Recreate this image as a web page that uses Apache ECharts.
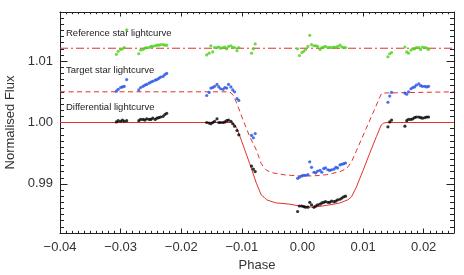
<!DOCTYPE html>
<html>
<head>
<meta charset="utf-8">
<script src="https://cdn.jsdelivr.net/npm/echarts@6.0.0/dist/echarts.min.js"></script>
<style>
html,body{margin:0;padding:0;background:#fff;}
#chart{width:464px;height:275px;}
</style>
</head>
<body>
<div id="chart"></div>
<script>
// ---- observation phases (shared by all three light curves) ----
const phase = [
  -0.0307, -0.0304, -0.0300, -0.0297, -0.0294, -0.0290,
  -0.0270, -0.0267, -0.0263, -0.0260, -0.0257, -0.0253, -0.0250, -0.0247, -0.0243, -0.0240, -0.0237, -0.0234, -0.0230, -0.0227, -0.0224,
  -0.0158, -0.0154, -0.0151, -0.0148, -0.0145, -0.0141, -0.0138, -0.0135, -0.0131, -0.0128, -0.0125, -0.0122, -0.0118, -0.0115, -0.0112, -0.0108, -0.0105,
  -0.0084, -0.0081, -0.0078,
  -0.0008, -0.0005, -0.0001, 0.0002, 0.0005, 0.0009, 0.0012, 0.0015, 0.0019, 0.0022, 0.0025, 0.0029, 0.0032, 0.0035, 0.0038, 0.0042, 0.0045, 0.0048, 0.0052, 0.0055, 0.0058, 0.0062, 0.0065, 0.0068, 0.0071,
  0.0141, 0.0144, 0.0147,
  0.0169, 0.0172, 0.0175, 0.0179, 0.0182, 0.0185, 0.0188, 0.0192, 0.0195, 0.0198, 0.0202, 0.0205, 0.0208
];
// ---- Reference star lightcurve (green) ----
const refFlux = [
  1.0111, 1.0116, 1.0119, 1.0120, 1.0122, 1.0151,
  1.0112, 1.0118, 1.0119, 1.0121, 1.0122, 1.0122, 1.0124, 1.0124, 1.0125, 1.0126, 1.0126, 1.0127, 1.0127, 1.0126, 1.0126,
  1.0110, 1.0113, 1.0125, 1.0115, 1.0122, 1.0122, 1.0123, 1.0121, 1.0122, 1.0123, 1.0120, 1.0124, 1.0125, 1.0122, 1.0122, 1.0117, 1.0122,
  1.0113, 1.0120, 1.0128,
  1.0120, 1.0109, 1.0114, 1.0116, 1.0119, 1.0124, 1.0142, 1.0127, 1.0125, 1.0125, 1.0124, 1.0119, 1.0122, 1.0123, 1.0124, 1.0122, 1.0122, 1.0122, 1.0123, 1.0122, 1.0124, 1.0126, 1.0123, 1.0122, 1.0122,
  1.0107, 1.0112, 1.0114,
  1.0123, 1.0115, 1.0113, 1.0118, 1.0120, 1.0120, 1.0122, 1.0122, 1.0119, 1.0123, 1.0122, 1.0121, 1.0119
];
// ---- Target star lightcurve (blue) ----
const targetFlux = [
  1.0051, 1.0054, 1.0057, 1.0058, 1.0059, 1.0070,
  1.0053, 1.0057, 1.0059, 1.0061, 1.0062, 1.0064, 1.0066, 1.0067, 1.0069, 1.0070, 1.0072, 1.0074, 1.0075, 1.0078, 1.0080,
  1.0044, 1.0049, 1.0056, 1.0057, 1.0059, 1.0062, 1.0058, 1.0055, 1.0054, 1.0057, 1.0056, 1.0062, 1.0058, 1.0053, 1.0050, 1.0039, 1.0036,
  0.9979, 0.9975, 0.9982,
  0.9909, 0.9911, 0.9913, 0.9914, 0.9914, 0.9915, 0.9936, 0.9927, 0.9919, 0.9918, 0.9921, 0.9922, 0.9919, 0.9925, 0.9926, 0.9923, 0.9922, 0.9923, 0.9924, 0.9927, 0.9926, 0.9931, 0.9932, 0.9933, 0.9934,
  1.0033, 1.0043, 1.0049,
  1.0048, 1.0046, 1.0050, 1.0055, 1.0057, 1.0058, 1.0061, 1.0063, 1.0060, 1.0059, 1.0059, 1.0058, 1.0059
];
// ---- Differential lightcurve (black) ----
const diffFlux = [
  1.0001, 1.0003, 1.0002, 1.0004, 1.0002, 1.0003,
  1.0003, 1.0005, 1.0005, 1.0004, 1.0006, 1.0005, 1.0005, 1.0007, 1.0005, 1.0007, 1.0008, 1.0009, 1.0010, 1.0013, 1.0015,
  1.0000, 0.9999, 0.9998, 1.0000, 1.0002, 1.0006, 1.0000, 1.0000, 1.0000, 1.0001, 1.0003, 1.0004, 1.0002, 0.9998, 0.9994, 0.9987, 0.9980,
  0.9929, 0.9924, 0.9920,
  0.9855, 0.9864, 0.9864, 0.9863, 0.9862, 0.9862, 0.9870, 0.9866, 0.9862, 0.9864, 0.9866, 0.9867, 0.9869, 0.9870, 0.9871, 0.9870, 0.9870, 0.9872, 0.9871, 0.9872, 0.9874, 0.9875, 0.9877, 0.9879, 0.9880,
  0.9993, 1.0001, 1.0004,
  0.9994, 1.0003, 1.0005, 1.0005, 1.0006, 1.0008, 1.0009, 1.0009, 1.0008, 1.0007, 1.0008, 1.0009, 1.0009
];
// ---- model curves (red) ----
const refModelPhase = [-0.04, 0.025];
const refModelFlux = [1.0121, 1.0121];
const targetModelPhase = [-0.04, -0.0120, -0.0117, -0.0114, -0.0110, -0.0106, -0.0098, -0.0087, -0.0076, -0.0068,
  -0.0063, -0.0059, -0.0049, -0.0032, -0.0007, 0.0018, 0.0040, 0.0062, 0.0073, 0.0081,
  0.0089, 0.0097, 0.0105, 0.0113, 0.0121, 0.0127, 0.0131, 0.0134, 0.025];
const targetModelFlux = [1.0050, 1.0050, 1.0049, 1.0044, 1.0035, 1.0025, 1.0004, 0.9977, 0.9955, 0.9933,
  0.9926, 0.9922, 0.9918, 0.9915, 0.9913, 0.9913, 0.9915, 0.9920, 0.9925, 0.9936,
  0.9954, 0.9972, 0.9990, 1.0008, 1.0026, 1.0040, 1.0048, 1.0050, 1.0050];
const diffModelPhase = [-0.04, -0.0118, -0.0114, -0.0111, -0.0108, -0.0103, -0.0095, -0.0087, -0.0076, -0.0068,
  -0.0063, -0.0059, -0.0050, -0.0043, -0.0021, -0.0005, 0.0018, 0.0040, 0.0062, 0.0075,
  0.0081, 0.0089, 0.0100, 0.0111, 0.0122, 0.0130, 0.0134, 0.0138, 0.025];
const diffModelFlux = [1.0000, 1.0000, 0.9999, 0.9997, 0.9990, 0.9977, 0.9955, 0.9933, 0.9901, 0.9882,
  0.9878, 0.9874, 0.9871, 0.9869, 0.9867, 0.9864, 0.9862, 0.9865, 0.9869, 0.9874,
  0.9879, 0.9895, 0.9922, 0.9950, 0.9977, 0.9996, 0.9999, 1.0000, 1.0000];
// ---- axes / ticks / labels ----
const xTicks = [-0.04, -0.03, -0.02, -0.01, 0.00, 0.01, 0.02];
const yTicks = [0.99, 1.00, 1.01];
const xRange = [-0.04, 0.025];
const yRange = [0.982, 1.018];
const seriesLabels = ['Reference star lightcurve', 'Target star lightcurve', 'Differential lightcurve'];
const xTitle = 'Phase';
const yTitle = 'Normalised Flux';

const zip = (xs, ys) => xs.map((x, i) => [x, ys[i]]);
const FONT = "'Liberation Sans', Arial, Helvetica, sans-serif";
const AX = '#222';
const RED = '#e4312b';

function xAxisDef(pos, major) {
  return {
    type: 'value', position: pos, min: xRange[0], max: xRange[1],
    interval: major ? 0.01 : 0.001,
    axisLine: { show: major, onZero: false, lineStyle: { color: AX, width: 1 } },
    axisTick: major ? { inside: true, length: 4.5, customValues: xTicks, lineStyle: { color: AX } }
                    : { inside: true, length: 2.2, lineStyle: { color: AX } },
    axisLabel: (major && pos === 'bottom') ? {
      customValues: xTicks, margin: 8, color: '#333', fontSize: 13, fontFamily: FONT,
      formatter: v => (v < -1e-9 ? '\u2212' : '') + Math.abs(v).toFixed(2)
    } : { show: false },
    splitLine: { show: false },
    name: (major && pos === 'bottom') ? xTitle : '',
    nameLocation: 'middle', nameGap: 24,
    nameTextStyle: { color: '#333', fontSize: 13, fontFamily: FONT }
  };
}
function yAxisDef(pos, major) {
  return {
    type: 'value', position: pos, min: yRange[0], max: yRange[1],
    interval: major ? undefined : 0.001,
    axisLine: { show: major, onZero: false, lineStyle: { color: AX, width: 1 } },
    axisTick: major ? { inside: true, length: 7.5, customValues: yTicks, lineStyle: { color: AX } }
                    : { inside: true, length: 4, lineStyle: { color: AX } },
    axisLabel: (major && pos === 'left') ? {
      customValues: yTicks, margin: 7, color: '#333', fontSize: 13, fontFamily: FONT,
      formatter: v => v.toFixed(2)
    } : { show: false },
    splitLine: { show: false },
    name: (major && pos === 'left') ? yTitle : '',
    nameLocation: 'middle', nameGap: 37,
    nameTextStyle: { color: '#333', fontSize: 13, fontFamily: FONT }
  };
}

const chart = echarts.init(document.getElementById('chart'), null, { renderer: 'canvas', width: 464, height: 275 });
const lineSeries = (name, xs, ys, type) => ({
  name, type: 'line', xAxisIndex: 0, yAxisIndex: 0, data: zip(xs, ys),
  showSymbol: false, symbol: 'none', smooth: false, silent: true, z: 2,
  lineStyle: { color: RED, width: 1, type: type }
});
const scatterSeries = (name, ys, color) => ({
  name, type: 'scatter', xAxisIndex: 0, yAxisIndex: 0, data: zip(phase, ys),
  symbol: 'circle', symbolSize: 3.2, silent: true, z: 3,
  itemStyle: { color: color, borderWidth: 0 }
});

chart.setOption({
  animation: false,
  backgroundColor: '#fff',
  grid: { left: 60, right: 10, top: 12, bottom: 42, containLabel: false, outerBoundsMode: 'none' },
  xAxis: [xAxisDef('bottom', true), xAxisDef('top', true), xAxisDef('bottom', false), xAxisDef('top', false)],
  yAxis: [yAxisDef('left', true), yAxisDef('right', true), yAxisDef('left', false), yAxisDef('right', false)],
  series: [
    lineSeries('refModel', refModelPhase, refModelFlux, [8, 3, 2, 3]),
    lineSeries('targetModel', targetModelPhase, targetModelFlux, [5, 3.5]),
    lineSeries('diffModel', diffModelPhase, diffModelFlux, 'solid'),
    scatterSeries(seriesLabels[0], refFlux, '#4fcf1f'),
    scatterSeries(seriesLabels[1], targetFlux, '#1f4fe6'),
    scatterSeries(seriesLabels[2], diffFlux, '#000000')
  ],
  graphic: [
    { type: 'text', silent: true, style: { x: 66, y: 33.5, text: seriesLabels[0], fill: '#222', fontSize: 9.5, fontFamily: FONT, verticalAlign: 'middle', align: 'left' } },
    { type: 'text', silent: true, style: { x: 66, y: 70.5, text: seriesLabels[1], fill: '#222', fontSize: 9.5, fontFamily: FONT, verticalAlign: 'middle', align: 'left' } },
    { type: 'text', silent: true, style: { x: 66, y: 107.5, text: seriesLabels[2], fill: '#222', fontSize: 9.5, fontFamily: FONT, verticalAlign: 'middle', align: 'left' } }
  ]
});
</script>
</body>
</html>
